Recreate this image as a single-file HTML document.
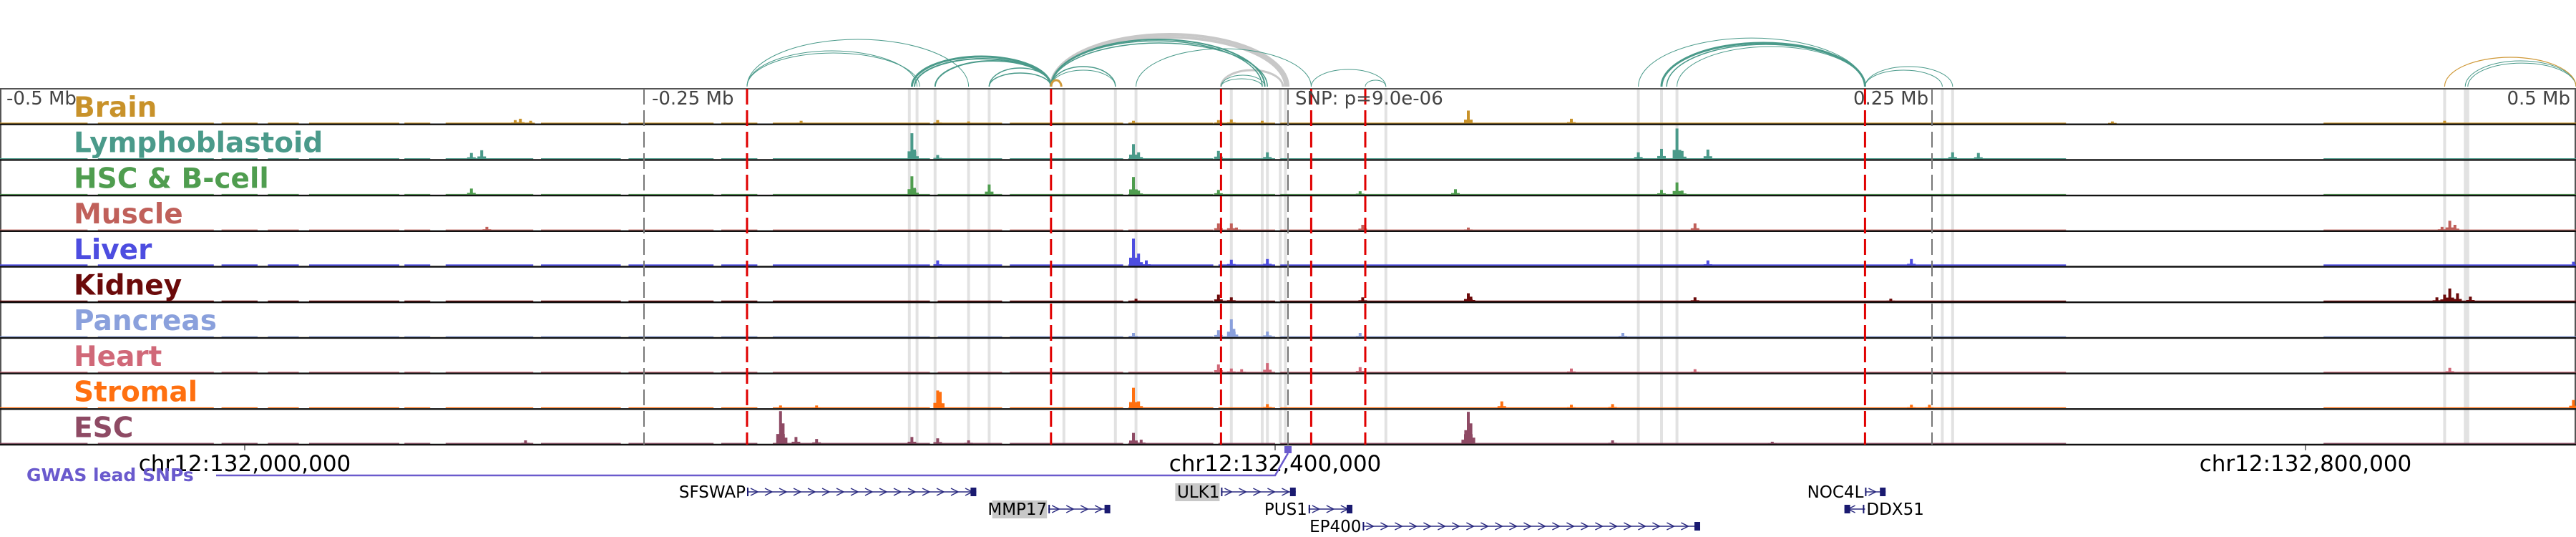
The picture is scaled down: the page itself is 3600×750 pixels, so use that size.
<!DOCTYPE html>
<html><head><meta charset="utf-8"><style>
html,body{margin:0;padding:0;background:#fff;}
svg{display:block;font-family:"DejaVu Sans","Liberation Sans",sans-serif;}
</style></head><body>
<svg id="chart" width="3600" height="750" viewBox="0 0 3600 750" xmlns="http://www.w3.org/2000/svg">
<g id="bands"></g>
<g id="arcs"></g>
<g id="tracks"></g>
<g id="vlines"></g>
<g id="labels"></g>
<g id="axis"></g>
<g id="genes"></g>
</svg>
<script>
// ---- data (genomic positions in kb relative to view centre) ----
const trackNames = ["Brain","Lymphoblastoid","HSC & B-cell","Muscle","Liver","Kidney","Pancreas","Heart","Stromal","ESC"];
const trackColors = ["#c8922a","#4a9a8a","#4f9d4f","#c0605a","#4d4de0","#6b0a0a","#8aa0dc","#d06878","#ff7010","#8e4a64"];
const coverage = [[-500,-466],[-462,-417],[-414,-400],[-396,-384],[-380,-345],[-343,-333],[-327,-293],[-290,-259],[-256,-223],[-220,-206],[-200,-139],[-136,-111],[-108,-64],[-62,-29],[-27,-5],[-3,302],[402,500]];
const floorLevels = [1.2,1.2,1,1,2,1.2,1.2,1.2,1.2,1.2];
// peaks: [kb, height in px]
const peaksBrain = [[-300,5],[-298,7],[-294,4],[-189,4],[-136,5],[-124,3],[-60,4],[-27,5],[-22,6],[-10,4],[70,19],[110,7],[320,3],[449,4]];
const peaksLympho = [[-317,9],[-313,13],[-146,38],[-145,14],[-136,6],[-60,22],[-58,10],[-27,12],[-8,10],[136,10],[145,15],[151,45],[153,12],[163,14],[258,10],[268,9]];
const peaksHSC = [[-317,9],[-146,27],[-145,10],[-116,15],[-60,26],[-58,6],[-27,7],[28,5],[65,8],[145,7],[151,18],[153,6]];
const peaksMuscle = [[-311,5],[-27,10],[-22,10],[-20,4],[29,8],[70,4],[158,10],[451,14],[453,8],[448,5]];
const peaksLiver = [[-136,8],[-60,40],[-58,18],[-55,8],[-22,9],[-8,10],[163,8],[242,10],[499,6]];
const peaksKidney = [[-59,4],[-27,10],[-22,6],[29,6],[70,12],[71,7],[158,6],[234,4],[451,19],[449,10],[454,12],[446,6],[459,7]];
const peaksPancreas = [[-60,6],[-27,10],[-22,26],[-21,12],[-8,8],[28,6],[130,6]];
const peaksHeart = [[-27,12],[-22,6],[-18,5],[-8,14],[28,8],[110,6],[158,5],[451,7]];
const peaksStromal = [[-197,4],[-183,4],[-136,26],[-135,24],[-60,30],[-58,10],[-8,6],[83,10],[126,6],[110,5],[242,5],[249,5],[499,12]];
const peaksESC = [[-197,48],[-196,30],[-191,10],[-183,7],[-296,5],[-146,10],[-136,8],[-124,5],[-60,16],[-57,6],[70,47],[71,30],[69,20],[126,5],[188,3]];
const trackPeaks = [peaksBrain,peaksLympho,peaksHSC,peaksMuscle,peaksLiver,peaksKidney,peaksPancreas,peaksHeart,peaksStromal,peaksESC];
const redLines = [-210,-92,-26,9,30,224];
const grayDashed = [-250,0,250];
const bandsKb = [-147,-144,-137,-124,-116,-87,-67,-59,-22,-10,-8,-3,-1,38,136,145,151,254,258,449,457,458];
// arcs: [startKb, endKb, topY]
const arcStart = [-210,-210,-210,-146,-145,-137,-116,-116,-92,-92,-92,-92,-92,-59,-26,-26,9,30,136,145,147,151,224,224,457,458];
const arcEnd   = [-124,-144,-143,-92,-92,-92,-92,-92,-9,-10,-8,-67,-67,9,-9,-10,38,38,224,224,224,224,258,254,500,500];
const arcTop   = [55,71,74,79,82,85,95,102,55,57,60,93,98,68,105,110,97,112,53,60,62,65,93,98,85,88];
const arcW     = [1,1,1,3,2,2,1.5,1.5,2,1.5,1.5,1.5,1,1,1,1,1,1,1,3,1.5,1,1,1,1,1];
const grayArcStart = [-92,-92,-26];
const grayArcEnd = [0,-1,-2];
const grayArcTop = [48,52,98];
const orangeArcStart = [-92,449];
const orangeArcEnd = [-88,500];
const orangeArcTop = [112,80];
const tickMb = ["-0.5 Mb","-0.25 Mb","SNP: p=9.0e-06","0.25 Mb","0.5 Mb"];
const coordKb = [-405,-5,395];
const coordLabels = ["chr12:132,000,000","chr12:132,400,000","chr12:132,800,000"];
const geneNames = ["SFSWAP","ULK1","NOC4L","MMP17","PUS1","DDX51","EP400"];
const geneStartAll = [-210,-26,224,-93,8,216,29];
const geneEndAll = [-121,3,232,-69,25,224,160];
const geneRow = [0,0,0,1,1,1,2];
const geneStrand = [1,1,1,1,1,-1,1];
const geneBox = [0,1,0,1,0,0,0];

const NS="http://www.w3.org/2000/svg";
const X = kb => 1800 + kb*3.6;
const TOP=124, TH=49.7;
function mk(tag, attrs, parent){const e=document.createElementNS(NS,tag);for(const k in attrs)e.setAttribute(k,attrs[k]);parent.appendChild(e);return e;}
const g = id=>document.getElementById(id);

bandsKb.forEach(b=>{
  const r=mk('rect',{x:X(b)-2,y:TOP,width:4,height:TH*10,fill:'#e2e2e2'},g('bands'));
  
  
});

function arc(s,e,top,color,w,name){
  const x1=X(s),x2=X(e),base=121;
  const p=mk('path',{d:`M${x1},${base} A${Math.abs(x2-x1)/2},${base-top} 0 0 1 ${x2},${base}`,fill:'none',stroke:color,'stroke-width':w},g('arcs'));
  
  
}
grayArcStart.forEach((s,i)=>arc(s,grayArcEnd[i],grayArcTop[i],'#c8c8c8',i<2?4:3,'gwas-loop-arc'));
arcStart.forEach((s,i)=>arc(s,arcEnd[i],arcTop[i],'#4a9a8a',arcW[i],'loop-arc'));
orangeArcStart.forEach((s,i)=>arc(s,orangeArcEnd[i],orangeArcTop[i],'#d09a3a',i==0?3:1.2,'brain-loop-arc'));

mk('line',{x1:0,y1:TOP,x2:3600,y2:TOP,stroke:'#555','stroke-width':2},g('tracks'));
mk('line',{x1:1,y1:TOP,x2:1,y2:TOP+TH*10,stroke:'#555','stroke-width':2},g('tracks'));
mk('line',{x1:3599,y1:TOP,x2:3599,y2:TOP+TH*10,stroke:'#555','stroke-width':2},g('tracks'));
trackNames.forEach((name,i)=>{
  const base=TOP+TH*(i+1)-1.2, col=trackColors[i];
  const tg=mk('g',{},g('tracks'));
  
  
  coverage.forEach(c=>{
    mk('rect',{x:X(c[0]),y:base-floorLevels[i],width:X(c[1])-X(c[0]),height:floorLevels[i],fill:col},tg);
  });
  trackPeaks[i].forEach(p=>{
    const h=p[1]*0.95;
    const b=mk('rect',{x:X(p[0])-2,y:base-h,width:4,height:h,fill:col},tg);
    
    
    mk('rect',{x:X(p[0])-6,y:base-h*0.3,width:12,height:h*0.3,fill:col},tg);
  });
  mk('line',{x1:0,y1:base+1.2,x2:3600,y2:base+1.2,stroke:'#111','stroke-width':2.4},tg);
  const t=mk('text',{x:103,y:TOP+TH*i+39,'font-size':39,'font-weight':'bold',fill:col},g('labels'));
  t.textContent=name;
  
  
});

redLines.forEach(k=>{
  const l=mk('line',{x1:X(k),y1:TOP,x2:X(k),y2:TOP+TH*10,stroke:'#e00000','stroke-width':3,'stroke-dasharray':'22,8'},g('vlines'));
  
  
});
grayDashed.forEach(k=>{
  const l=mk('line',{x1:X(k),y1:TOP,x2:X(k),y2:TOP+TH*10,stroke:'#777','stroke-width':2,'stroke-dasharray':'22,8'},g('vlines'));
  
  
});
const tickPos=[[9,'start'],[911,'start'],[1810,'start'],[2590,'start'],[3592,'end']];
tickMb.forEach((s,i)=>{
  const t=mk('text',{x:tickPos[i][0],y:146,'font-size':26,fill:'#444','text-anchor':tickPos[i][1]},g('labels'));
  t.textContent=s;
  
  
});

coordKb.forEach((k,i)=>{
  mk('line',{x1:X(k),y1:622,x2:X(k),y2:629,stroke:'#555','stroke-width':1.5},g('axis'));
  const t=mk('text',{x:X(k),y:658,'font-size':31,'text-anchor':'middle',fill:'#000'},g('axis'));
  t.textContent=coordLabels[i];
  
  
});
const gw=mk('text',{x:37,y:672,'font-size':25,'font-weight':'bold',fill:'#6a5acd'},g('axis'));
gw.textContent='GWAS lead SNPs';


mk('polyline',{points:`302,664 ${X(-5)},664 ${X(0)},633`,fill:'none',stroke:'#6a5acd','stroke-width':2.5},g('axis'));
const sn=mk('rect',{x:X(0)-5,y:623,width:10,height:10,fill:'#6a5acd'},g('axis'));



const rowY=[687,711,735];
geneNames.forEach((n,i)=>{
  const x1=X(geneStartAll[i]),x2=X(geneEndAll[i]),y=rowY[geneRow[i]];
  const gg=mk('g',{},g('genes'));
  
  
  mk('line',{x1:x1,y1:y,x2:x2,y2:y,stroke:'#2a2a80','stroke-width':1.5},gg);
  for(let x=x1+10;x<x2-6;x+=20){
    const d=geneStrand[i]*5;
    mk('polyline',{points:`${x-d},${y-5} ${x+d},${y} ${x-d},${y+5}`,fill:'none',stroke:'#2a2a80','stroke-width':1.5},gg);
  }
  mk('rect',{x:geneStrand[i]>0?x2-8:x1,y:y-6,width:8,height:12,fill:'#1a1a70'},gg);
  mk('rect',{x:geneStrand[i]>0?x1:x2-3,y:y-6,width:2,height:12,fill:'#1a1a70'},gg);
  let tx, anchor;
  if(geneStrand[i]>0){tx=x1-2;anchor='end';}else{tx=x2+2;anchor='start';}
  const t=mk('text',{x:tx,y:y+8,'font-size':23,'text-anchor':anchor,fill:'#000'},gg);
  t.textContent=n;
  if(geneBox[i]){
    const w=n.length*14.5+4;
    const r=mk('rect',{x:tx-w,y:y-12,width:w,height:25,fill:'#c8c8c8'},gg);
    gg.insertBefore(r,t);
  }
});
</script>
</body></html>
